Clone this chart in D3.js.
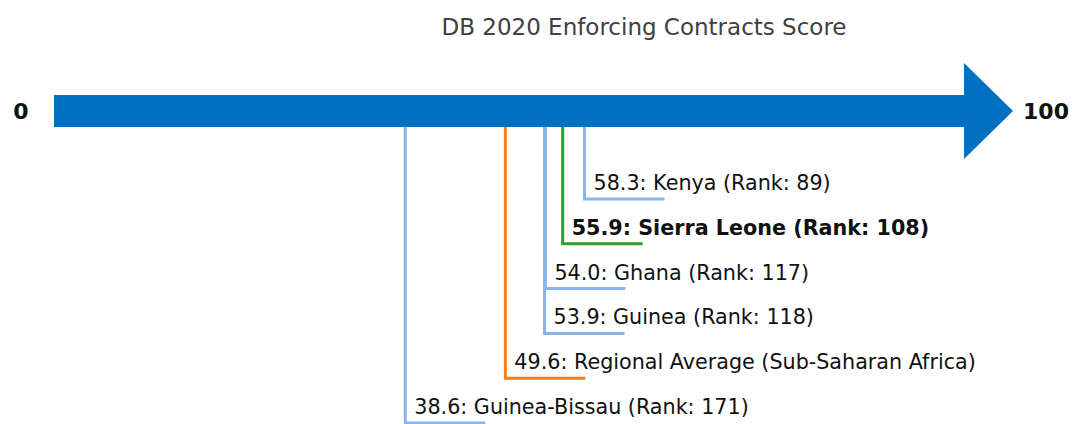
<!DOCTYPE html>
<html>
<head>
<meta charset="utf-8">
<script src="https://cdn.jsdelivr.net/npm/d3@7"></script>
<style>
  body { margin: 0; background: #fff; }
  svg { display: block; font-family: "DejaVu Sans", sans-serif; }
</style>
</head>
<body>
<div id="chart"></div>
<script>
'use strict'

// data
const economies = ['Kenya', 'Sierra Leone', 'Ghana', 'Guinea', 'Regional Average (Sub-Saharan Africa)', 'Guinea-Bissau']
const scores = [58.3, 55.9, 54.0, 53.9, 49.6, 38.6]
const ranks = [89, 108, 117, 118, null, 171]
const kinds = ['peer', 'focus', 'peer', 'peer', 'region', 'peer']
const domainTicks = [0, 100]

const width = 1072, height = 424
const colors = {peer: '#8ab4ea', focus: '#2ca02c', region: '#ff7f0e'}

const svg = d3.select('#chart').append('svg')
    .attr('width', width)
    .attr('height', height)

const x = d3.scaleLinear().domain([0, 100]).range([54, 964])

// title
svg.append('text')
    .attr('x', 644)
    .attr('y', 35)
    .attr('text-anchor', 'middle')
    .attr('font-size', 23)
    .attr('fill', '#404040')
    .text('DB 2020 Enforcing Contracts Score')

// arrow: shaft + head
const yMid = 111, shaftH = 32, headH = 96, headL = 49
svg.append('path')
    .attr('fill', '#0070c0')
    .attr('d', `M${x(0)},${yMid - shaftH / 2}H${x(100)}V${yMid - headH / 2}L${x(100) + headL},${yMid}L${x(100)},${yMid + headH / 2}V${yMid + shaftH / 2}H${x(0)}Z`)

// end labels
svg.selectAll('.end')
    .data(domainTicks)
    .join('text')
    .attr('class', 'end')
    .attr('x', d => d == 0 ? 21 : 1046)
    .attr('y', yMid)
    .attr('dy', '0.36em')
    .attr('text-anchor', 'middle')
    .attr('font-weight', 'bold')
    .attr('font-size', 22)
    .attr('fill', '#111')
    .text(d => d)

// leader lines
const rowY = d3.scalePoint().domain(d3.range(scores.length)).range([199, 423])
const tail = 80

const g = svg.append('g')
    .selectAll('g')
    .data(scores.map((s, i) => ({s, i, name: economies[i], rank: ranks[i], kind: kinds[i]})))
    .join('g')

g.append('path')
    .attr('fill', 'none')
    .attr('stroke', d => colors[d.kind])
    .attr('stroke-width', 3)
    .attr('d', d => `M${x(d.s)},${yMid + shaftH / 2}V${rowY(d.i)}H${x(d.s) + tail}`)

g.append('text')
    .attr('x', d => x(d.s) + 9)
    .attr('y', d => rowY(d.i) - 9)
    .attr('font-size', 20.7)
    .attr('font-weight', d => d.kind == 'focus' ? 'bold' : 'normal')
    .attr('fill', '#111')
    .text(d => `${d.s.toFixed(1)}: ${d.name}` + (d.rank != null ? ` (Rank: ${d.rank})` : ''))
</script>
</body>
</html>
